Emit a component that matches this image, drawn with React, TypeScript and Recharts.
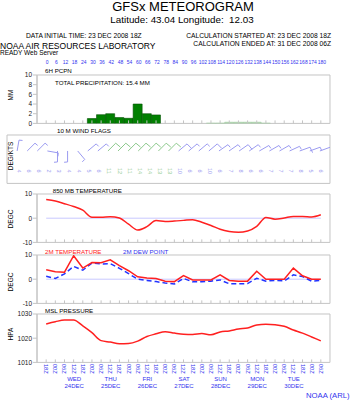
import React from 'react';
import {
  ComposedChart, Bar, Cell, Line, Scatter, XAxis, YAxis, ReferenceArea, ReferenceLine,
} from 'recharts';

// forecast hours (top axis) and valid times (bottom axis)
const HOURS = [0, 6, 12, 18, 24, 30, 36, 42, 48, 54, 60, 66, 72, 78, 84, 90, 96, 102, 108, 114, 120, 126, 132, 138, 144, 150, 156, 162, 168, 174, 180];
const TIMES = ['18Z', '00Z', '06Z', '12Z', '18Z', '00Z', '06Z', '12Z', '18Z', '00Z', '06Z', '12Z', '18Z', '00Z', '06Z', '12Z',
  '18Z', '00Z', '06Z', '12Z', '18Z', '00Z', '06Z', '12Z', '18Z', '00Z', '06Z', '12Z', '18Z', '00Z', '06Z'];
const DAYS = ['WED', 'THU', 'FRI', 'SAT', 'SUN', 'MON', 'TUE'];
const DATES = ['24DEC', '25DEC', '26DEC', '27DEC', '28DEC', '29DEC', '30DEC'];

const PCPN = [0, 0, 0, 0, 0, 1.0, 1.8, 2.0, 1.2, 1.05, 4.0, 2.0, 1.75, 0, 0, 0, 0, 0, 0.05, 0.05, 0.25, 0.25, 0.25, 0.25, 0.05, 0, 0, 0, 0, 0, 0];
const WIND_DIR = [10, 45, 45, 100, 180, 180, 140, 50, 50, 45, 45, 45, 45, 45, 45, 45, 50, 50, 50, 50, 55, 55, 55, 55, 60, 60, 60, 65, 70, 70, 70];
const WIND_SPD = [4, 6, 6, 2, 3, 4, 4, 5, 6, 11, 12, 11, 14, 14, 13, 13, 10, 6, 6, 10, 6, 7, 8, 6, 6, 7, 7, 7, 8, 5, 6];
const T850 = [7.7, 7.1, 6.0, 4.8, 3.3, 0.4, 0.4, 0.6, 0.1, -2.5, -4.9, -3.5, -1.0, -1.4, -1.2, -0.9, -0.6, -1.7, -3.0, -4.6, -5.5, -5.8, -5.3, -3.4, 0.3, -0.4, 0.1, 0.7, 0.7, 0.5, 1.4];
const T2M = [3.9, 3.1, 2.9, 9.7, 4.6, 6.9, 6.8, 8.0, 5.6, 3.5, 1.0, 0.5, 0.3, -0.8, -1.0, 1.5, -0.3, -0.3, -0.3, 1.8, -0.5, -0.8, -0.8, 3.3, 0, 0, 0, 4.6, 1.4, 0, 0];
const TD2M = [1.2, 0.3, 2.2, 5.3, 3.7, 6.7, 6.3, 6.4, 4.5, 2.3, 0, -0.5, -1.0, -1.6, -2.0, 0.3, -1.1, -1.1, -0.8, -0.3, -1.9, -1.9, -1.8, 0.4, -0.8, -0.5, -0.7, 1.8, 1.1, -0.8, -0.5];
const MSLP = [1025.9, 1026.8, 1027.5, 1027.5, 1025.1, 1022.3, 1019.0, 1018.4, 1017.7, 1017.8, 1018.8, 1020.7, 1021.8, 1022.7, 1022.1, 1021.6, 1021.5, 1021.9, 1021.4, 1022.6, 1023.0, 1023.8, 1024.2, 1025.5, 1025.8, 1025.6, 1024.9, 1023.4, 1022.1, 1020.5, 1018.9];

const IDX = HOURS.map((_, i) => i);
const WIND_ROW = 0.67;
const rows = HOURS.map((h, i) => ({
  i, h, pcpn: PCPN[i], dir: WIND_DIR[i], spd: WIND_SPD[i], wy: WIND_ROW,
  t850: T850[i], t2m: T2M[i], td2m: TD2M[i], mslp: MSLP[i],
}));

const W = 352;
const PH = 48.4; // plot height of every panel
const FONT = '"Liberation Sans", Arial, Helvetica, sans-serif';
const GRAY = '#c4c4c4';
const BLUE = '#3333ee';
const RED = '#ff2020';

const InTick = ({ x, y }: any) => <line x1={x} x2={x} y1={y} y2={y - 3} stroke={GRAY} />;
const NoTick = () => <g />;
const RightTick = ({ x, y }: any) => <line x1={x - 3} x2={x} y1={y} y2={y} stroke={GRAY} />;

// precip panel: inward tick plus the forecast hour printed above the panel
const HourTick = ({ x, y, payload }: any) => (
  <g>
    <line x1={x} x2={x} y1={y} y2={y - 3} stroke={GRAY} />
    <text x={x + 1} y={y - PH - 11} textAnchor="middle" fontSize={5} fill={BLUE} fontFamily={FONT}>{HOURS[payload.value]}</text>
  </g>
);

const TimeTick = ({ x, y, payload }: any) => {
  const i = payload.value;
  const d = (i - 3) / 4;
  return (
    <g fontFamily={FONT} fill={BLUE}>
      <line x1={x} x2={x} y1={y} y2={y - 3} stroke={GRAY} />
      <text transform={`translate(${x - 2},${y + 1.5}) rotate(90)`} fontSize={5.8}>{TIMES[i]}</text>
      {i % 4 === 3 && (
        <>
          <text x={x + 0.5} y={y + 19} textAnchor="middle" fontSize={6}>{DAYS[d]}</text>
          <text x={x + 0.5} y={y + 25.8} textAnchor="middle" fontSize={6}>{DATES[d]}</text>
        </>
      )}
    </g>
  );
};

const Barb = (props: any) => {
  const { cx, cy, payload } = props;
  const { dir, spd } = payload;
  const r = (dir * Math.PI) / 180;
  const L = 11;
  const tx = cx + Math.sin(r) * L;
  const ty = cy - Math.cos(r) * L;
  const b = ((dir + 85) * Math.PI) / 180;
  const bl = spd >= 8 ? 6 : 3.5;
  const bx = tx + Math.sin(b) * bl;
  const by = ty - Math.cos(b) * bl;
  const color = spd >= 11 ? '#8cc88c' : '#9a9af0';
  return (
    <g>
      <polyline points={`${cx},${cy} ${tx},${ty} ${bx},${by}`} fill="none" stroke={color} strokeWidth={1} />
      <text transform={`translate(${cx - 0.5},${cy + 20}) rotate(90)`} textAnchor="middle" fontSize={5.5}
        fill={color} fontFamily={FONT}>{spd}</text>
    </g>
  );
};

const yTickStyle = { fontSize: 6.5, fill: '#222', fontFamily: FONT };

function xAxis(tick: any) {
  return (
    <XAxis dataKey="i" type="number" domain={[-1, 31]} ticks={IDX} interval={0} height={1}
      axisLine={false} tickLine={false} tickSize={0} tickMargin={0} tick={tick} allowDataOverflow />
  );
}

function yAxis(domain: number[], ticks: number[]) {
  return (
    <YAxis type="number" domain={domain} ticks={ticks} interval={0} width={30} tick={yTickStyle}
      tickSize={4} tickMargin={1} stroke={GRAY} allowDataOverflow />
  );
}

function frame(domain: number[]) {
  return <ReferenceArea x1={-1} x2={31} y1={domain[0]} y2={domain[1]} fill="none" stroke={GRAY} strokeWidth={1} ifOverflow="visible" />;
}

const box = (top: number): React.CSSProperties => ({ position: 'absolute', left: 0, top });

export default function App() {
  const pDom = [0, 10];
  const tDom = [-10, 10];
  const mDom = [1010, 1030];
  return (
    <div style={{ position: 'absolute', left: 0, top: 0, width: W, height: 400, background: '#fff', fontFamily: FONT }}>
      {/* precipitation */}
      <div style={box(74.7 - 16)}>
        <ComposedChart width={W} height={16 + PH + 4} data={rows} margin={{ top: 16, right: 22, bottom: 3, left: 7 }}>
          {xAxis(<HourTick />)}
          {yAxis(pDom, [0, 2, 4, 6, 8, 10])}
          <YAxis yAxisId="r" orientation="right" type="number" domain={pDom} ticks={[2, 4, 6, 8]} interval={0} width={0}
            axisLine={false} tickLine={false} tickSize={0} tickMargin={0} tick={<RightTick />} />
          {frame(pDom)}
          <Bar dataKey="pcpn" barSize={9} isAnimationActive={false}>
            {rows.map((r) => (
              <Cell key={r.i} fill={r.pcpn >= 0.5 ? '#008000' : '#a8d0a8'} stroke={r.pcpn >= 0.5 ? '#005000' : '#a8d0a8'} strokeWidth={0.6} />
            ))}
          </Bar>
        </ComposedChart>
      </div>

      {/* wind flags */}
      <div style={box(134.5 - 4)}>
        <ComposedChart width={W} height={4 + PH + 4} data={rows} margin={{ top: 4, right: 22, bottom: 3, left: 7 }}>
          {xAxis(<NoTick />)}
          <YAxis type="number" domain={[0, 1]} width={30} hide />
          {frame([0, 1])}
          <Scatter dataKey="wy" shape={<Barb />} isAnimationActive={false} />
        </ComposedChart>
      </div>

      {/* 850 mb temperature */}
      <div style={box(194.3 - 4)}>
        <ComposedChart width={W} height={4 + PH + 4} data={rows} margin={{ top: 4, right: 22, bottom: 3, left: 7 }}>
          {xAxis(<InTick />)}
          {yAxis(tDom, [-10, 0, 10])}
          {frame(tDom)}
          <ReferenceLine segment={[{ x: 0, y: 0 }, { x: 30, y: 0 }]} stroke="#c8c8ff" />
          <Line dataKey="t850" type="monotone" stroke={RED} strokeWidth={1.5} dot={false} isAnimationActive={false} />
        </ComposedChart>
      </div>

      {/* 2 m temperature and dew point */}
      <div style={box(255.3 - 4)}>
        <ComposedChart width={W} height={4 + PH + 4} data={rows} margin={{ top: 4, right: 22, bottom: 3, left: 7 }}>
          {xAxis(<InTick />)}
          {yAxis(tDom, [-10, 0, 10])}
          {frame(tDom)}
          <ReferenceLine segment={[{ x: 0, y: 0 }, { x: 30, y: 0 }]} stroke="#c8c8ff" />
          <Line dataKey="td2m" type="linear" stroke="#2233ff" strokeWidth={1.5} strokeDasharray="5 3" dot={false} isAnimationActive={false} />
          <Line dataKey="t2m" type="linear" stroke={RED} strokeWidth={1.5} dot={false} isAnimationActive={false} />
        </ComposedChart>
      </div>

      {/* MSL pressure */}
      <div style={box(314.3 - 4)}>
        <ComposedChart width={W} height={4 + PH + 31} data={rows} margin={{ top: 4, right: 22, bottom: 30, left: 7 }}>
          {xAxis(<TimeTick />)}
          {yAxis(mDom, [1010, 1020, 1030])}
          {frame(mDom)}
          <Line dataKey="mslp" type="monotone" stroke={RED} strokeWidth={1.5} dot={false} isAnimationActive={false} />
        </ComposedChart>
      </div>

      {/* titles and labels */}
      <svg width={W} height={400} style={{ position: 'absolute', left: 0, top: 0, pointerEvents: 'none' }} fontFamily={FONT}>
        <text x={183} y={11} textAnchor="middle" fontSize={13} fill="#000">GFSx METEOROGRAM</text>
        <text x={182} y={22.6} textAnchor="middle" fontSize={9.8} fill="#000" style={{ whiteSpace: 'pre' }}>Latitude: 43.04 Longitude:  12.03</text>
        <text x={26} y={38.3} fontSize={6.7} fill="#000">DATA INITIAL TIME: 23 DEC 2008 18Z</text>
        <text x={331} y={38.3} textAnchor="end" fontSize={6.7} fill="#000">CALCULATION STARTED AT: 23 DEC 2008 18Z</text>
        <text x={331} y={45.6} textAnchor="end" fontSize={6.7} fill="#000">CALCULATION ENDED AT: 31 DEC 2008 06Z</text>
        <text x={0} y={48.6} fontSize={8.5} fill="#000">NOAA AIR RESOURCES LABORATORY</text>
        <text x={0} y={55.3} fontSize={6.5} fill="#000">READY Web Server</text>
        <g fontSize={6.2} fill="#000" style={{ whiteSpace: 'pre' }}>
          <text x={45} y={72.7}>6H PCPN</text>
          <text x={55} y={85}>TOTAL PRECIPITATION:  15.4 MM</text>
          <text x={57} y={132.5}>10 M  WIND FLAGS</text>
          <text x={52.7} y={193}>850 MB  TEMPERATURE</text>
          <text x={45} y={253.5} fill={RED}>2M TEMPERATURE</text>
          <text x={123} y={253.5} fill={BLUE}>2M  DEW POINT</text>
          <text x={45} y={312.5}>MSL PRESSURE</text>
        </g>
        <g fontSize={6.5} fill="#000" textAnchor="middle">
          <text transform="translate(13.3,95) rotate(-90)">MM</text>
          <text transform="translate(13.3,156) rotate(-90)">DEG/KTS</text>
          <text transform="translate(13.3,219) rotate(-90)">DEGC</text>
          <text transform="translate(13.3,282) rotate(-90)">DEGC</text>
          <text transform="translate(13.3,334) rotate(-90)">HPA</text>
        </g>
        <text x={306} y={398} fontSize={7.7} fill={BLUE}>NOAA (ARL)</text>
      </svg>
    </div>
  );
}
